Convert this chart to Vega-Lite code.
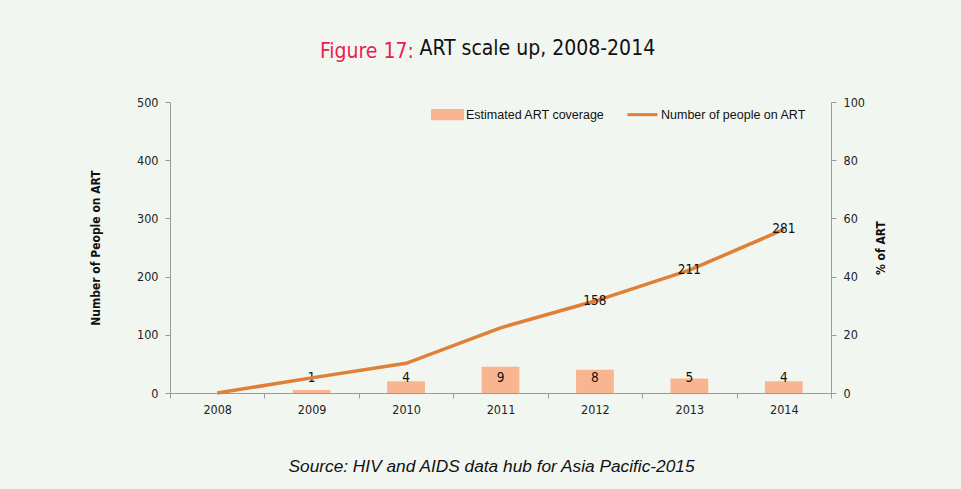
{
  "$schema": "https://vega.github.io/schema/vega-lite/v6.json",
  "width": 661,
  "height": 291,
  "autosize": {"type": "none"},
  "padding": {"left": 170, "top": 102, "right": 130, "bottom": 96},
  "background": "#f1f7f0",
  "title": {
    "text": "Figure 17:",
    "color": "#e91e4f",
    "font": "DejaVu Sans Condensed, sans-serif",
    "fontSize": 21,
    "fontWeight": "normal",
    "anchor": "start",
    "frame": "group",
    "dx": 150,
    "dy": 42,
    "offset": 0,
    "baseline": "alphabetic"
  },
  "data": {
    "values": [
      {"year": "2008", "coverage": null, "people": 0},
      {"year": "2009", "coverage": 1, "people": 26},
      {"year": "2010", "coverage": 4, "people": 51},
      {"year": "2011", "coverage": 9, "people": 112},
      {"year": "2012", "coverage": 8, "people": 158},
      {"year": "2013", "coverage": 5, "people": 211},
      {"year": "2014", "coverage": 4, "people": 281}
    ]
  },
  "layer": [
    {
      "layer": [
        {
          "transform": [{"filter": "datum.coverage != null"}],
          "mark": {"type": "bar", "width": {"band": 0.4}},
          "encoding": {
            "x": {
              "field": "year", "type": "ordinal",
              "scale": {"paddingInner": 0, "paddingOuter": 0},
              "axis": {
                "orient": "bottom", "tickBand": "extent", "tickSize": 5, "labelAngle": 0, "labelPadding": 5,
                "labelFont": "DejaVu Sans Condensed, sans-serif", "labelFontSize": 12.5, "labelColor": "#222",
                "domainColor": "#9a9a9a", "tickColor": "#9a9a9a", "grid": false,
                "title": "Source: HIV and AIDS data hub for Asia Pacific-2015",
                "titleFont": "Liberation Sans, Arial, sans-serif", "titleFontStyle": "italic", "titleFontWeight": "normal",
                "titleFontSize": 17.3, "titleColor": "#111", "titleX": 321, "titleY": 78, "titleAlign": "center", "titleBaseline": "alphabetic"
              }
            },
            "y": {
              "field": "coverage", "type": "quantitative",
              "scale": {"domain": [0, 100]},
              "axis": {
                "orient": "right", "values": [0, 20, 40, 60, 80, 100], "grid": false,
                "domainColor": "#9a9a9a", "tickColor": "#9a9a9a", "tickSize": 5, "labelPadding": 7,
                "labelFont": "DejaVu Sans Condensed, sans-serif", "labelFontSize": 12.5, "labelColor": "#222",
                "title": "% of ART", "titleFont": "DejaVu Sans Condensed, sans-serif", "titleFontSize": 12,
                "titleFontWeight": "bold", "titleColor": "#111", "titleX": 49, "titleY": 145.5, "titleAngle": 270,
                "titleAlign": "center", "titleBaseline": "middle"
              }
            },
            "color": {
              "datum": "Estimated ART coverage", "type": "nominal",
              "scale": {"domain": ["Estimated ART coverage", "Number of people on ART"], "range": ["#f9b590", "#e07f38"]},
              "legend": {
                "orient": "none", "legendX": 261, "legendY": -4, "direction": "horizontal", "title": null,
                "symbolSize": 900, "labelFont": "Liberation Sans, Arial, sans-serif", "labelFontSize": 12.5, "labelColor": "#111",
                "labelOffset": 2, "columnPadding": 16,
                "encode": {"symbols": {"update": {
                  "shape": {"signal": "datum.value === 'Estimated ART coverage' ? 'M-1,-0.28H1V0.28H-1Z' : 'M-1,-0.28L-1,-0.28M-1,0H1M1,0.28L1,0.28'"},
                  "fill": {"signal": "datum.value === 'Estimated ART coverage' ? '#f9b590' : 'transparent'"},
                  "stroke": {"signal": "datum.value === 'Estimated ART coverage' ? 'transparent' : '#e07f38'"},
                  "strokeWidth": {"value": 3},
                  "opacity": {"value": 1}
                }}}
              }
            }
          }
        },
        {
          "transform": [{"filter": "datum.coverage != null"}],
          "mark": {"type": "text", "align": "center", "baseline": "middle", "font": "DejaVu Sans Condensed, sans-serif", "fontSize": 13.5, "color": "#111"},
          "encoding": {
            "x": {"field": "year", "type": "ordinal"},
            "y": {"datum": 5, "type": "quantitative"},
            "text": {"field": "coverage", "type": "quantitative"}
          }
        }
      ]
    },
    {
      "layer": [
        {
          "mark": {"type": "line", "strokeWidth": 3.5},
          "encoding": {
            "x": {
              "field": "year", "type": "ordinal",
              "axis": {
                "orient": "top", "labels": false, "ticks": false, "domain": false, "grid": false,
                "title": "ART scale up, 2008-2014",
                "titleFont": "DejaVu Sans Condensed, sans-serif", "titleFontSize": 21,
                "titleFontWeight": "normal", "titleColor": "#111", "titleX": 249, "titleY": -48,
                "titleAlign": "left", "titleBaseline": "alphabetic"
              }
            },
            "y": {
              "field": "people", "type": "quantitative",
              "scale": {"domain": [0, 500]},
              "axis": {
                "orient": "left", "values": [0, 100, 200, 300, 400, 500], "grid": false,
                "domainColor": "#9a9a9a", "tickColor": "#9a9a9a", "tickSize": 5, "labelPadding": 7,
                "labelFont": "DejaVu Sans Condensed, sans-serif", "labelFontSize": 12.5, "labelColor": "#222",
                "title": "Number of People on ART", "titleFont": "DejaVu Sans Condensed, sans-serif", "titleFontSize": 12,
                "titleFontWeight": "bold", "titleColor": "#111", "titleX": -75, "titleY": 145.5, "titleAngle": 270,
                "titleAlign": "center", "titleBaseline": "middle"
              }
            },
            "color": {"datum": "Number of people on ART", "type": "nominal"}
          }
        },
        {
          "transform": [{"filter": "toNumber(datum.year) >= 2012"}],
          "mark": {"type": "text", "align": "center", "baseline": "middle", "font": "DejaVu Sans Condensed, sans-serif", "fontSize": 13.5, "color": "#111"},
          "encoding": {
            "x": {"field": "year", "type": "ordinal"},
            "y": {"field": "people", "type": "quantitative"},
            "text": {"field": "people", "type": "quantitative"}
          }
        }
      ]
    }
  ],
  "resolve": {"scale": {"y": "independent"}, "axis": {"y": "independent", "x": "independent"}},
  "config": {"view": {"stroke": null}}
}
